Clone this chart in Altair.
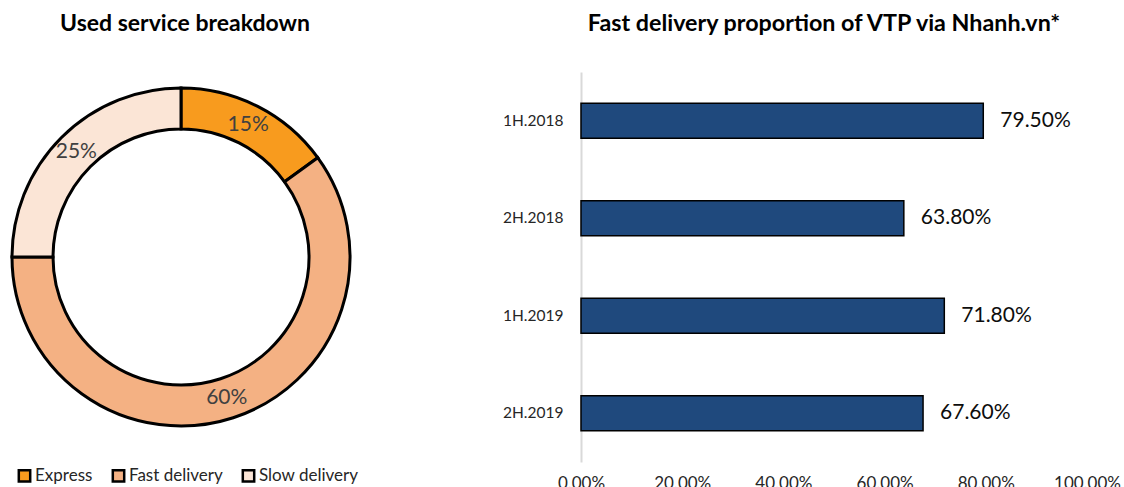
import altair as alt
import pandas as pd

# ---- data ----
services = ["Express", "Fast delivery", "Slow delivery"]
shares = [0.15, 0.60, 0.25]
share_labels = ["15%", "60%", "25%"]
service_colors = ["#F89B1E", "#F4B183", "#FBE5D6"]

periods = ["1H.2018", "2H.2018", "1H.2019", "2H.2019"]
fast_props = [0.795, 0.638, 0.718, 0.676]
value_labels = ["79.50%", "63.80%", "71.80%", "67.60%"]
x_ticks = [0, 0.2, 0.4, 0.6, 0.8, 1.0]

FONT = "Lato"

pie_df = pd.DataFrame({"service": services, "share": shares,
                       "label": share_labels, "order": list(range(len(services)))})
bar_df = pd.DataFrame({"period": periods, "value": fast_props, "label": value_labels})

# ---- donut ----
base = alt.Chart(pie_df).encode(
    theta=alt.Theta("share:Q", stack=True),
    order=alt.Order("order:Q"),
)
arcs = base.mark_arc(innerRadius=128, outerRadius=169, stroke="black", strokeWidth=3).encode(
    color=alt.Color(
        "service:N",
        scale=alt.Scale(domain=services, range=service_colors),
        legend=alt.Legend(
            title=None, orient="none", direction="horizontal",
            legendX=16, legendY=395, padding=0,
            symbolType="square", symbolSize=130, symbolStrokeColor="black",
            symbolStrokeWidth=2.5, labelFontSize=17, labelFont=FONT,
            labelColor="#262626", labelOffset=2, columnPadding=14,
        ),
    ),
    x=alt.value(181), y=alt.value(185),
)
texts = base.mark_text(radius=148, fontSize=21, color="#404040", font=FONT).encode(
    text="label:N", x=alt.value(181), y=alt.value(185),
)
donut = (arcs + texts).properties(
    width=362, height=390,
    title=alt.TitleParams("Used service breakdown", fontSize=23, font=FONT,
                          fontWeight="bold", color="#000000", offset=36, dx=4),
)

# ---- bars ----
bbase = alt.Chart(bar_df).encode(
    y=alt.Y("period:N", sort=periods,
            scale=alt.Scale(paddingInner=0.64, paddingOuter=0.32),
            axis=alt.Axis(title=None, domainColor="#D9D9D9", domainWidth=2, ticks=False,
                          labelFontSize=15.5, labelFont=FONT, labelColor="#262626",
                          labelPadding=18)),
    x=alt.X("value:Q", scale=alt.Scale(domain=[0, 1]),
            axis=alt.Axis(title=None, values=x_ticks, format=".2%", domain=False,
                          ticks=False, grid=False, labelFontSize=17, labelFont=FONT,
                          labelColor="#262626", labelPadding=13, labelFlush=False)),
)
bars = bbase.mark_bar(color="#1F497D", stroke="black", strokeWidth=1.5)
blabels = bbase.mark_text(align="left", dx=17, fontSize=21, font=FONT, color="#0D0D0D").encode(
    text="label:N")
barchart = (bars + blabels).properties(
    width=506, height=390,
    title=alt.TitleParams("Fast delivery proportion of VTP via Nhanh.vn*", fontSize=23.3,
                          font=FONT, fontWeight="bold", color="#000000", offset=36, dx=-10),
)

chart = alt.hconcat(donut, barchart, spacing=140).configure(
    padding={"top": 11, "left": 0, "right": 0, "bottom": 0}, background="white"
).configure_view(stroke=None)

chart.save("out.html", embed_options={"renderer": "svg", "actions": False})
